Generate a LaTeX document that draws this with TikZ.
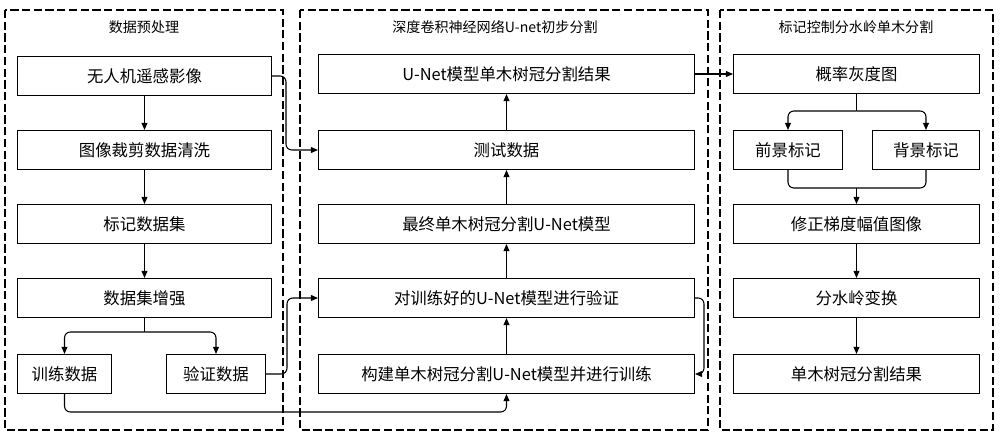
\documentclass[tikz,border=0pt]{standalone}
\usepackage{fontspec}
\setmainfont{Noto Sans CJK SC}
\usetikzlibrary{arrows.meta}
\begin{document}
\begin{tikzpicture}[x=0.03cm,y=-0.03cm,
  box/.style={draw,line width=0.9pt,minimum height=1.17cm,inner sep=0pt,font=\fontsize{14}{16}\selectfont},
  grp/.style={draw,dash pattern=on 7pt off 3pt,line width=0.9pt},
  ttl/.style={font=\fontsize{12}{14}\selectfont},
  arr/.style={-{Triangle[length=6pt,width=5pt]},line width=0.9pt,rounded corners=5pt},
  ln/.style={line width=0.9pt,rounded corners=5pt}]
\useasboundingbox (0,0) rectangle (1000,437);
\draw[grp] (5,10) rectangle (283,430);
\draw[grp] (300,10) rectangle (708,430);
\draw[grp] (720,10) rectangle (993,430);
\node[ttl] (t1) at (144,27) {数据预处理};
\node[ttl] (t2) at (495,27) {深度卷积神经网络U-net初步分割};
\node[ttl] (t3) at (856,27) {标记控制分水岭单木分割};
\newcommand{\bx}[6]{\node[box,minimum width=#4*0.03cm-0.9pt] (#1) at (#2,#3) {#6};}
\bx{a1}{144.5}{76}{255}{}{无人机遥感影像}
\bx{a2}{144.5}{150}{255}{}{图像裁剪数据清洗}
\bx{a3}{144.5}{224}{255}{}{标记数据集}
\bx{a4}{144.5}{298}{255}{}{数据集增强}
\bx{a5}{64.5}{374}{95}{}{训练数据}
\bx{a6}{216}{374}{100}{}{验证数据}
\bx{b1}{506.5}{74}{377}{}{U-Net模型单木树冠分割结果}
\bx{b2}{506.5}{150}{377}{}{测试数据}
\bx{b3}{506.5}{224}{377}{}{最终单木树冠分割U-Net模型}
\bx{b4}{506.5}{298}{377}{}{对训练好的U-Net模型进行验证}
\bx{b5}{506.5}{374}{377}{}{构建单木树冠分割U-Net模型并进行训练}
\bx{c1}{856.5}{74}{247}{}{概率灰度图}
\bx{c2}{788}{150}{110}{}{前景标记}
\bx{c3}{926}{150}{108}{}{背景标记}
\bx{c4}{856.5}{224}{247}{}{修正梯度幅值图像}
\bx{c5}{856.5}{298}{247}{}{分水岭变换}
\bx{c6}{856.5}{374}{247}{}{单木树冠分割结果}
\draw[arr] (a1) -- (a2);
\draw[arr] (a2) -- (a3);
\draw[arr] (a3) -- (a4);
\draw[ln] (a4.south) -- (144.5,332);
\draw[arr] (144.5,332) -| (a5.north);
\draw[arr] (144.5,332) -| (a6.north);
\draw[arr] (a1.east) -- (286,76) -- (286,150) -- (b2.west);
\draw[arr] (a6.east) -- (287,374) -- (287,298) -- (b4.west);
\draw[arr] (a5.south) -- (64.5,412) -- (b5.south |- 0,412) -- (b5.south);
\draw[arr] (b5) -- (b4);
\draw[arr] (b4) -- (b3);
\draw[arr] (b3) -- (b2);
\draw[arr] (b2) -- (b1);
\draw[arr] (b4.east) -- (704,298) -- (704,374) -- (b5.east);
\draw[arr] (b1) -- (c1);
\draw[ln] (c1.south) -- (856.5,111);
\draw[arr] (856.5,111) -| (c2.north);
\draw[arr] (856.5,111) -| (c3.north);
\draw[ln] (c2.south) |- (856.5,188) -| (c3.south);
\draw[arr] (856.5,188) -- (c4.north);
\draw[arr] (c4) -- (c5);
\draw[arr] (c5) -- (c6);
\end{tikzpicture}
\end{document}
